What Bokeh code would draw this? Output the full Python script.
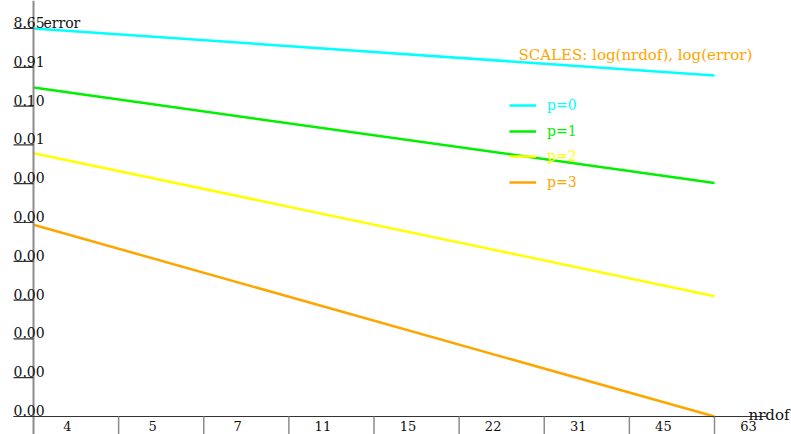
import numpy as np
from bokeh.plotting import figure
from bokeh.models import (Range1d, LogScale, ColumnDataSource, Legend, LegendItem, Label)
from bokeh.core.properties import value
from bokeh.embed import file_html
from bokeh.resources import INLINE

# ---------------- data ----------------
nrdof = [4.0, 63.0]
err_p0 = [8.65, 0.566]
err_p1 = [0.282, 1.11e-3]
err_p2 = [6.24e-3, 1.55e-6]
err_p3 = [9.77e-5, 1.44e-9]
series_names = ["p=0", "p=1", "p=2", "p=3"]
series_colors = ["#00ffff", "#00f000", "#ffff00", "#ffa500"]

x_tick_labels = ["4", "5", "7", "11", "15", "22", "31", "45", "63"]
y_tick_labels = ["8.65", "0.91", "0.10", "0.01", "0.00", "0.00", "0.00",
                 "0.00", "0.00", "0.00", "0.00"]
x_title = "nrdof"
y_title = "error"
scales_note = "SCALES: log(nrdof), log(error)"

# ---------------- geometry ----------------
W, H = 791, 434
LEFT, RIGHT_PAD, TOP, BOTTOM_PAD = 33, 77, 28, 18
FONT_NAME = "DejaVu Serif"
FONT = value(FONT_NAME)

all_err = err_p0 + err_p1 + err_p2 + err_p3
xmin, xmax = min(nrdof), max(nrdof)
ymin, ymax = min(all_err), max(all_err)
Lx = np.log10(xmax / xmin)
Ly = np.log10(ymax / ymin)
pxx = (W - LEFT - RIGHT_PAD) / Lx      # pixels per decade (x)
pxy = (H - TOP - BOTTOM_PAD) / Ly      # pixels per decade (y)


def xoff(x, px):
    return x * 10 ** (px / pxx)


def yoff(y, px_down):
    return y * 10 ** (-px_down / pxy)


x_start, x_end = xoff(xmin, -LEFT), xoff(xmax, RIGHT_PAD)
y_start, y_end = yoff(ymin, BOTTOM_PAD), yoff(ymax, -TOP)

# ticks: equal log intervals across the data extent
x_ticks = list(np.geomspace(xmin, xmax, len(x_tick_labels)))
y_ticks = list(np.geomspace(ymax, ymin, len(y_tick_labels)))

p = figure(width=W, height=H, output_backend="svg", toolbar_location=None,
           x_axis_type="log", y_axis_type="log",
           x_axis_location=None, y_axis_location=None,
           x_range=Range1d(x_start, x_end), y_range=Range1d(y_start, y_end),
           min_border=0, outline_line_color=None,
           background_fill_color="white", border_fill_color="white")
p.x_scale = LogScale()
p.y_scale = LogScale()
p.xgrid.visible = False
p.ygrid.visible = False

# ---------------- series lines ----------------
renderers = []
for name, col, ys in zip(series_names, series_colors, [err_p0, err_p1, err_p2, err_p3]):
    r = p.line(x=nrdof, y=ys, line_color=col, line_width=2.5)
    renderers.append(r)

# ---------------- legend (drawn underneath the lines) ----------------
legend_top_centre = 105
for i, (name, col, r) in enumerate(zip(series_names, series_colors, renderers)):
    cy = legend_top_centre + i * 25.7
    lg = Legend(items=[LegendItem(label=name, renderers=[r])],
                location=(509, H - cy - 10), padding=0, margin=0, spacing=0,
                glyph_width=27, glyph_height=20, label_height=20,
                label_standoff=11, border_line_color=None,
                background_fill_alpha=0, label_text_font=FONT_NAME,
                label_text_font_size="14px", label_text_color=col,
                level="underlay")
    p.add_layout(lg)

# ---------------- axes ----------------
# y axis line (full height)
p.segment(x0=[xmin], y0=[y_start], x1=[xmin], y1=[y_end],
          line_color="#8c8c8c", line_width=2)
# x axis line
p.segment(x0=[xoff(xmin, -20)], y0=[ymin], x1=[xoff(xmax, 52)], y1=[ymin],
          line_color="#333333", line_width=1.2)
# x ticks (below axis)
p.segment(x0=x_ticks[1:], y0=[ymin] * (len(x_ticks) - 1),
          x1=x_ticks[1:], y1=[y_start] * (len(x_ticks) - 1),
          line_color="#8c8c8c", line_width=1.5)
# y ticks (left of axis)
p.segment(x0=[xoff(xmin, -20)] * len(y_ticks), y0=y_ticks,
          x1=[xmin] * len(y_ticks), y1=y_ticks,
          line_color="#333333", line_width=1.2)

# y tick labels (above each tick)
ysrc = ColumnDataSource(dict(x=[xmin] * len(y_ticks), y=y_ticks, t=y_tick_labels))
p.text(x="x", y="y", text="t", source=ysrc, x_offset=-20, y_offset=-6,
       text_align="left", text_baseline="alphabetic", text_font=FONT,
       text_font_size="14px", text_color="#111111")
# x tick labels (between ticks)
xsrc = ColumnDataSource(dict(x=x_ticks, y=[ymin] * len(x_ticks), t=x_tick_labels))
p.text(x="x", y="y", text="t", source=xsrc, x_offset=34, y_offset=9,
       text_align="center", text_baseline="alphabetic", text_font=FONT,
       text_font_size="13px", text_color="#111111")
# axis titles
p.text(x=[xmin], y=[ymax], text=[y_title], x_offset=10, y_offset=-6,
       text_align="left", text_baseline="alphabetic", text_font=FONT,
       text_font_size="14px", text_color="#111111")
p.text(x=[xmax], y=[ymin], text=[x_title], x_offset=34, y_offset=-2,
       text_align="left", text_baseline="alphabetic", text_font=FONT,
       text_font_size="15px", text_color="#111111")

# scales note
p.add_layout(Label(x=518, y=H - 54, x_units="screen", y_units="screen",
                   text=scales_note, text_font=FONT_NAME,
                   text_font_size="15px", text_color="#ffa500",
                   text_baseline="alphabetic"))

open("out.html", "w").write(file_html(p, INLINE))
